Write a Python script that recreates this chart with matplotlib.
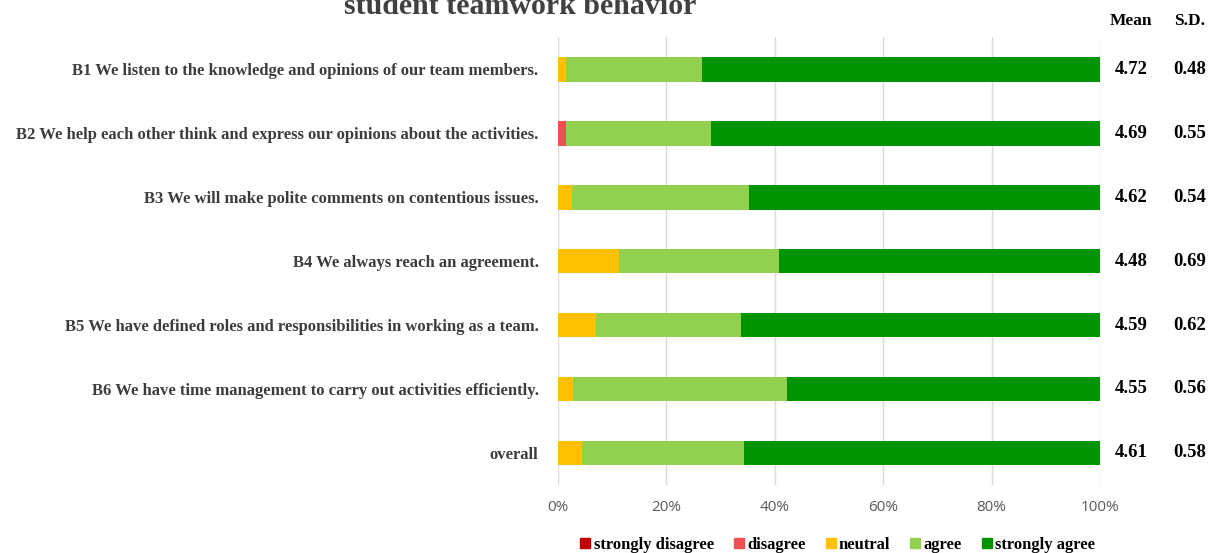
import matplotlib.pyplot as plt
from matplotlib.patches import Patch

# survey items and response shares (%)
items = [
    "B1 We listen to the knowledge and opinions of our team members.",
    "B2 We help each other think and express our opinions about the activities.",
    "B3 We will make polite comments on contentious issues.",
    "B4 We always reach an agreement.",
    "B5 We have defined roles and responsibilities in working as a team.",
    "B6 We have time management to carry out activities efficiently.",
    "overall",
]
strongly_disagree = [0.0, 0.0, 0.0, 0.0, 0.0, 0.0, 0.0]
disagree = [0.0, 1.5, 0.0, 0.0, 0.0, 0.0, 0.0]
neutral = [1.5, 0.0, 2.6, 11.3, 7.0, 2.7, 4.4]
agree = [25.1, 26.7, 32.6, 29.5, 26.8, 39.5, 30.0]
strongly_agree = [73.4, 71.8, 64.8, 59.2, 66.2, 57.8, 65.6]
means = ["4.72", "4.69", "4.62", "4.48", "4.59", "4.55", "4.61"]
sds = ["0.48", "0.55", "0.54", "0.69", "0.62", "0.56", "0.58"]

series = [strongly_disagree, disagree, neutral, agree, strongly_agree]
names = ["strongly disagree", "disagree", "neutral", "agree", "strongly agree"]
colors = ["#C00000", "#F05050", "#FFC000", "#92D050", "#009400"]

serif = "Liberation Serif"

fig = plt.figure(figsize=(12.09, 5.53), dpi=100)
ax = fig.add_axes([0.4615, 0.123, 0.4483, 0.810])

ypos = list(range(len(items)))
left = [0.0] * len(items)
for vals, col in zip(series, colors):
    ax.barh(ypos, vals, left=left, height=0.39, color=col, zorder=3)
    left = [l + v for l, v in zip(left, vals)]

ax.set_xlim(0, 100)
ax.set_ylim(6.5, -0.5)
ax.set_xticks([0, 20, 40, 60, 80, 100])
ax.set_xticklabels(["0%", "20%", "40%", "60%", "80%", "100%"],
                   color="#595959", fontsize=11, family="Open Sans")
ax.set_yticks(ypos)
ax.set_yticklabels(items, family=serif, fontweight="bold", fontsize=12, color="#3c3c3c")
ax.tick_params(axis="both", length=0)
ax.tick_params(axis="x", pad=11)
ax.tick_params(axis="y", pad=14)
ax.grid(axis="x", color="#D9D9D9", linewidth=1, zorder=0)
for s in ax.spines.values():
    s.set_visible(False)

# mean and S.D. columns to the right of the bars
tr = ax.get_yaxis_transform()
ax.text(1.057, -0.75, "Mean", transform=tr, ha="center", va="center",
        family=serif, fontweight="bold", fontsize=12.5, clip_on=False)
ax.text(1.166, -0.75, "S.D.", transform=tr, ha="center", va="center",
        family=serif, fontweight="bold", fontsize=12.5, clip_on=False)
for y, m, s in zip(ypos, means, sds):
    ax.text(1.057, y, m, transform=tr, ha="center", va="center",
            family=serif, fontweight="bold", fontsize=13.5)
    ax.text(1.166, y, s, transform=tr, ha="center", va="center",
            family=serif, fontweight="bold", fontsize=13.5)

fig.text(0.43, 0.975, "student teamwork behavior", ha="center", va="baseline",
         family=serif, fontweight="bold", fontsize=21.5, color="#404040")

handles = [Patch(color=c) for c in colors]
fig.legend(handles, names, loc="center", bbox_to_anchor=(0.693, 0.015), ncol=5,
           frameon=False, handlelength=0.6, handleheight=0.6, handletextpad=0.2,
           columnspacing=1.2, prop={"family": serif, "weight": "bold", "size": 12})

fig.savefig("out.png", dpi=100)
